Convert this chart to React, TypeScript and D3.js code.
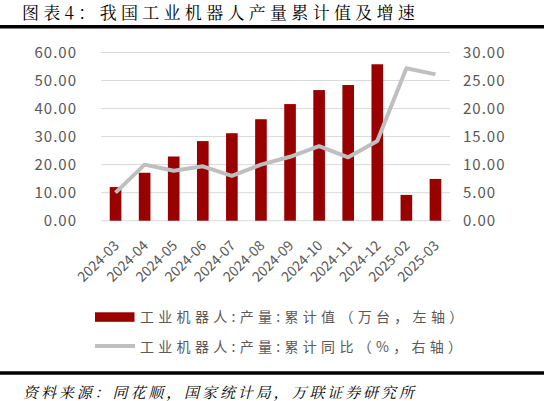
import React from 'react';
import * as d3 from 'd3';

const months = ['2024-03','2024-04','2024-05','2024-06','2024-07','2024-08','2024-09','2024-10','2024-11','2024-12','2025-02','2025-03'];
const cumulative = [12.0, 17.1, 22.9, 28.4, 31.2, 36.2, 41.6, 46.6, 48.4, 55.8, 9.2, 14.9];
const growth = [5.0, 10.0, 8.9, 9.7, 8.0, 10.0, 11.4, 13.3, 11.3, 14.2, 27.2, 26.1];
const leftTicks = [0, 10, 20, 30, 40, 50, 60];
const rightTicks = [0, 5, 10, 15, 20, 25, 30];

const W = 557;
const H = 401;
const plot = { left: 101, right: 450, top: 52.5, bottom: 220.7 };

const sans = "'Noto Sans CJK SC', 'Noto Sans', sans-serif";
const serifish = "'Noto Serif CJK SC', 'Noto Sans CJK SC', serif";

export default function App(): JSX.Element {
	const x = d3.scaleBand<string>().domain(months).range([plot.left, plot.right]).paddingInner(0.6).paddingOuter(0.3);
	const yL = d3.scaleLinear().domain([0, 60]).range([plot.bottom, plot.top]);
	const yR = d3.scaleLinear().domain([0, 30]).range([plot.bottom, plot.top]);
	const cx = (m: string) => (x(m) || 0) + x.bandwidth() / 2;
	const line = d3.line<number>().x((_, i) => cx(months[i])).y((d) => yR(d));

	return (
		<div style={{ position: 'fixed', left: 0, top: 0 }}>
			<svg width={W} height={H} style={{ display: 'block', background: '#fff' }}>
				<text x={22} y={19} fontSize={17} letterSpacing={4.3} fontFamily={serifish} fill="#000">图表4：我国工业机器人产量累计值及增速</text>
				<line x1={0} x2={544} y1={26.8} y2={26.8} stroke="#000" strokeWidth={3.5} />

				{leftTicks.map((t) => (
					<line key={'g' + t} x1={plot.left} x2={plot.right} y1={yL(t)} y2={yL(t)} stroke="#d9d9d9" strokeWidth={1} />
				))}
				{leftTicks.map((t) => (
					<text key={'l' + t} x={77} y={yL(t)} dy="0.36em" textAnchor="end" fontSize={15} letterSpacing={1} fontFamily={sans} fill="#595959">{t.toFixed(2)}</text>
				))}
				{rightTicks.map((t) => (
					<text key={'r' + t} x={463} y={yR(t)} dy="0.36em" textAnchor="start" fontSize={15} letterSpacing={1} fontFamily={sans} fill="#595959">{t.toFixed(2)}</text>
				))}

				{cumulative.map((v, i) => (
					<rect key={'b' + i} x={x(months[i])} y={yL(v)} width={x.bandwidth()} height={yL(0) - yL(v)} fill="#990000" />
				))}
				<path d={line(growth) || ''} fill="none" stroke="#bfbfbf" strokeWidth={4} strokeLinejoin="round" />

				{months.map((m) => (
					<text key={'x' + m} transform={`translate(${cx(m) + 1},243) rotate(-45)`} dy="0.35em" textAnchor="end" fontSize={14} fontFamily={sans} fill="#595959">{m}</text>
				))}

				<rect x={95} y={312.3} width={39.5} height={9.5} fill="#990000" />
				<text x={140} y={317} dy="0.36em" fontSize={14} letterSpacing={4.3} fontFamily={sans} fill="#595959">工业机器人:产量:累计值（万台，左轴）</text>
				<line x1={95} x2={135} y1={346} y2={346} stroke="#bfbfbf" strokeWidth={4} />
				<text x={140} y={347} dy="0.36em" fontSize={14} letterSpacing={4.3} fontFamily={sans} fill="#595959">工业机器人:产量:累计同比（%，右轴）</text>

				<line x1={0} x2={544} y1={373} y2={373} stroke="#000" strokeWidth={3.5} />
				<text x={23} y={398} fontSize={15} letterSpacing={2.9} fontStyle="italic" fontFamily={serifish} fill="#000">资料来源：同花顺，国家统计局，万联证券研究所</text>
			</svg>
		</div>
	);
}
